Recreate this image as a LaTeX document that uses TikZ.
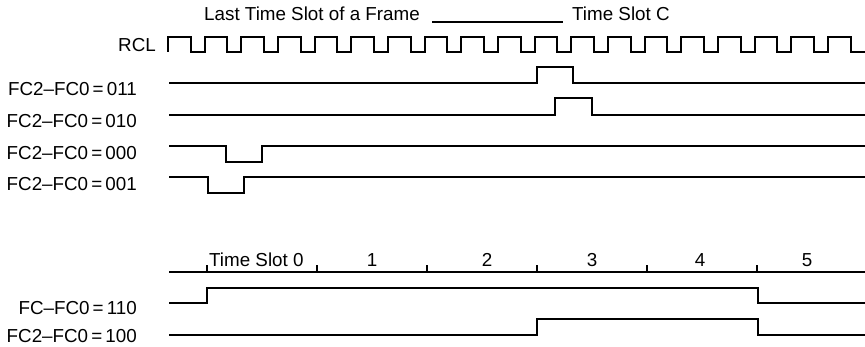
\documentclass[tikz,border=0pt]{standalone}
\usepackage{fontspec}
\setmainfont{Liberation Sans}
\begin{document}
\begin{tikzpicture}[x=1pt,y=-1pt,
  sig/.style={line width=2pt, line join=miter},
  lbl/.style={font=\fontsize{18.8}{19}\selectfont, inner sep=0pt, anchor=east},
  slot/.style={font=\fontsize{18.8}{19}\selectfont, inner sep=0pt, anchor=base}]
\useasboundingbox (0,0) rectangle (865,347);
% title
\node[slot, anchor=base west] (t1) at (204,21) {Last Time Slot of a Frame};
\coordinate (u1) at (432,22);
\coordinate (u2) at (563,22);
\draw[line width=1.2pt] (u1) -- (u2);
\node[slot, anchor=base west] (t2) at (572,21) {Time Slot C};
% RCL clock
\node[lbl] (rcl) at (156,45) {RCL};
\pgfmathsetmacro{\P}{36.67}
\draw[sig] (168,52) -- (168,37)
  \foreach \k in {0,...,18} {
    -- ({168+\k*\P+0.62*\P},37) -- ({168+\k*\P+0.62*\P},52)
    -- ({168+(\k+1)*\P},52)
    \ifnum\k<18 -- ({168+(\k+1)*\P},37)\fi
  };
% FC signals
\node[lbl] (l011) at (137,89) {FC2–FC0\,=\,011};
\draw[sig] (169,83) -- (536.5,83) -- (536.5,67) -- (573,67) -- (573,83) -- (865,83);
\node[lbl] (l010) at (137,121) {FC2–FC0\,=\,010};
\draw[sig] (169,115) -- (555,115) -- (555,98) -- (592,98) -- (592,115) -- (865,115);
\node[lbl] (l000) at (137,153) {FC2–FC0\,=\,000};
\draw[sig] (169,146) -- (226,146) -- (226,162) -- (262,162) -- (262,146) -- (865,146);
\node[lbl] (l001) at (137,184) {FC2–FC0\,=\,001};
\draw[sig] (169,177) -- (208,177) -- (208,193) -- (244,193) -- (244,177) -- (865,177);
% time slot axis
\draw[sig] (169,272) -- (865,272);
\foreach \x in {207,317,427,537,647,757} {
  \draw[line width=1.4pt] (\x,272) -- (\x,265);
}
\node[slot, anchor=base west] (s0) at (209,267) {Time Slot 0};
\node[slot] (s1) at (372,267) {1};
\node[slot] (s2) at (487,267) {2};
\node[slot] (s3) at (592,267) {3};
\node[slot] (s4) at (700,267) {4};
\node[slot] (s5) at (807,267) {5};
% lower signals
\node[lbl] (l110) at (137,308) {FC–FC0\,=\,110};
\draw[sig] (169,303) -- (207,303) -- (207,288) -- (758,288) -- (758,303) -- (865,303);
\node[lbl] (l100) at (137,336) {FC2–FC0\,=\,100};
\draw[sig] (169,335) -- (537,335) -- (537,319) -- (758,319) -- (758,335) -- (865,335);
\end{tikzpicture}
\end{document}
